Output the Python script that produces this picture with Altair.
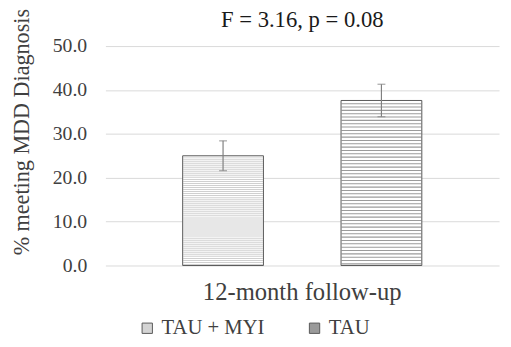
import altair as alt
import numpy as np
import pandas as pd

categories = ["12-month follow-up"]
series = ["TAU + MYI", "TAU"]
values = [25.0, 37.6]
errors = [3.4, 3.7]
title_text = "F = 3.16, p = 0.08"
y_title = "% meeting MDD Diagnosis"

df = pd.DataFrame({
    "cat": [categories[0]] * len(series),
    "series": series,
    "value": values,
    "err": errors,
})
df["lo"] = df["value"] - df["err"]
df["hi"] = df["value"] + df["err"]

# decorative fill-pattern lines inside each bar (derived from the bar values)
pattern_step = {"TAU + MYI": 0.45, "TAU": 0.76}
rows = []
for s, v in zip(series, values):
    st = pattern_step[s]
    for yv in np.arange(st / 2, v - 0.15, st):
        rows.append({"cat": categories[0], "series": s, "y": float(yv)})
sdf = pd.DataFrame(rows)

FONT = "Liberation Serif"

x_enc = alt.X("cat:N", title=None, scale=alt.Scale(paddingOuter=0.323, paddingInner=0),
              axis=alt.Axis(labelAngle=0, labelFontSize=25, labelFont=FONT,
                            labelColor="#404040", ticks=False, domain=False,
                            labelPadding=15, labelLimit=500))
xo_enc = alt.XOffset("series:N", scale=alt.Scale(domain=series, paddingInner=0.49, paddingOuter=0))
y_enc = alt.Y("value:Q", title=y_title,
              scale=alt.Scale(domain=[0, 50]),
              axis=alt.Axis(values=[0, 10, 20, 30, 40, 50], format=".1f",
                            labelFontSize=20, labelFont=FONT, labelColor="#404040",
                            ticks=False, domain=False, labelPadding=19,
                            gridColor="#d9d9d9", gridWidth=1,
                            titleFontSize=22.5, titleFont=FONT, titleColor="#404040",
                            titleFontWeight="normal", titleY=87, titleX=-85,
                            titleAngle=270, titleBaseline="middle", titleAlign="center"))

base = alt.Chart(df)

legend_bars = base.mark_bar().encode(
    x=x_enc, xOffset=xo_enc, y=y_enc,
    color=alt.Color("series:N", scale=alt.Scale(domain=series, range=["#d4d4d4", "#9a9a9a"]),
                    legend=alt.Legend(orient="none", legendX=32, legendY=276, direction="horizontal",
                                      title=None, symbolType="square", symbolSize=110,
                                      symbolStrokeColor="#595959", symbolStrokeWidth=1,
                                      labelFontSize=21, labelFont=FONT, labelColor="#404040",
                                      columnPadding=40, labelOffset=4)),
)

white_bars = base.mark_bar(fill="#ffffff").encode(x=x_enc, xOffset=xo_enc, y=y_enc)

myi_lines = alt.Chart(sdf).transform_filter(alt.datum.series == "TAU + MYI").mark_tick(
    size=81, thickness=1, color="#bcbcbc").encode(x=x_enc, xOffset=xo_enc, y="y:Q")

tau_lines = alt.Chart(sdf).transform_filter(alt.datum.series == "TAU").mark_tick(
    size=81, thickness=1.1, color="#707070").encode(x=x_enc, xOffset=xo_enc, y="y:Q")

outline = base.mark_bar(fillOpacity=0, stroke="#595959", strokeWidth=1).encode(
    x=x_enc, xOffset=xo_enc, y=y_enc)

err_rule = base.mark_rule(color="#808080", strokeWidth=1.2).encode(
    x=x_enc, xOffset=xo_enc, y="lo:Q", y2="hi:Q")
cap_hi = base.mark_tick(color="#808080", thickness=1.2, size=8).encode(
    x=x_enc, xOffset=xo_enc, y="hi:Q")
cap_lo = base.mark_tick(color="#808080", thickness=1.2, size=8).encode(
    x=x_enc, xOffset=xo_enc, y="lo:Q")

chart = alt.layer(legend_bars, white_bars, myi_lines, tau_lines, outline,
                  err_rule, cap_hi, cap_lo).properties(
    width=400, height=223,
    title=alt.TitleParams(title_text, fontSize=23, font=FONT,
                          fontWeight="normal", color="#1a1a1a", offset=-24, anchor="middle",
                          frame="group"),
    padding={"left": 99, "top": 36, "right": 4, "bottom": 72},
    autosize=alt.AutoSizeParams(type="none"),
).configure(font=FONT).configure_view(stroke=None)

chart.save("out.html", embed_options={"renderer": "svg", "actions": False})
